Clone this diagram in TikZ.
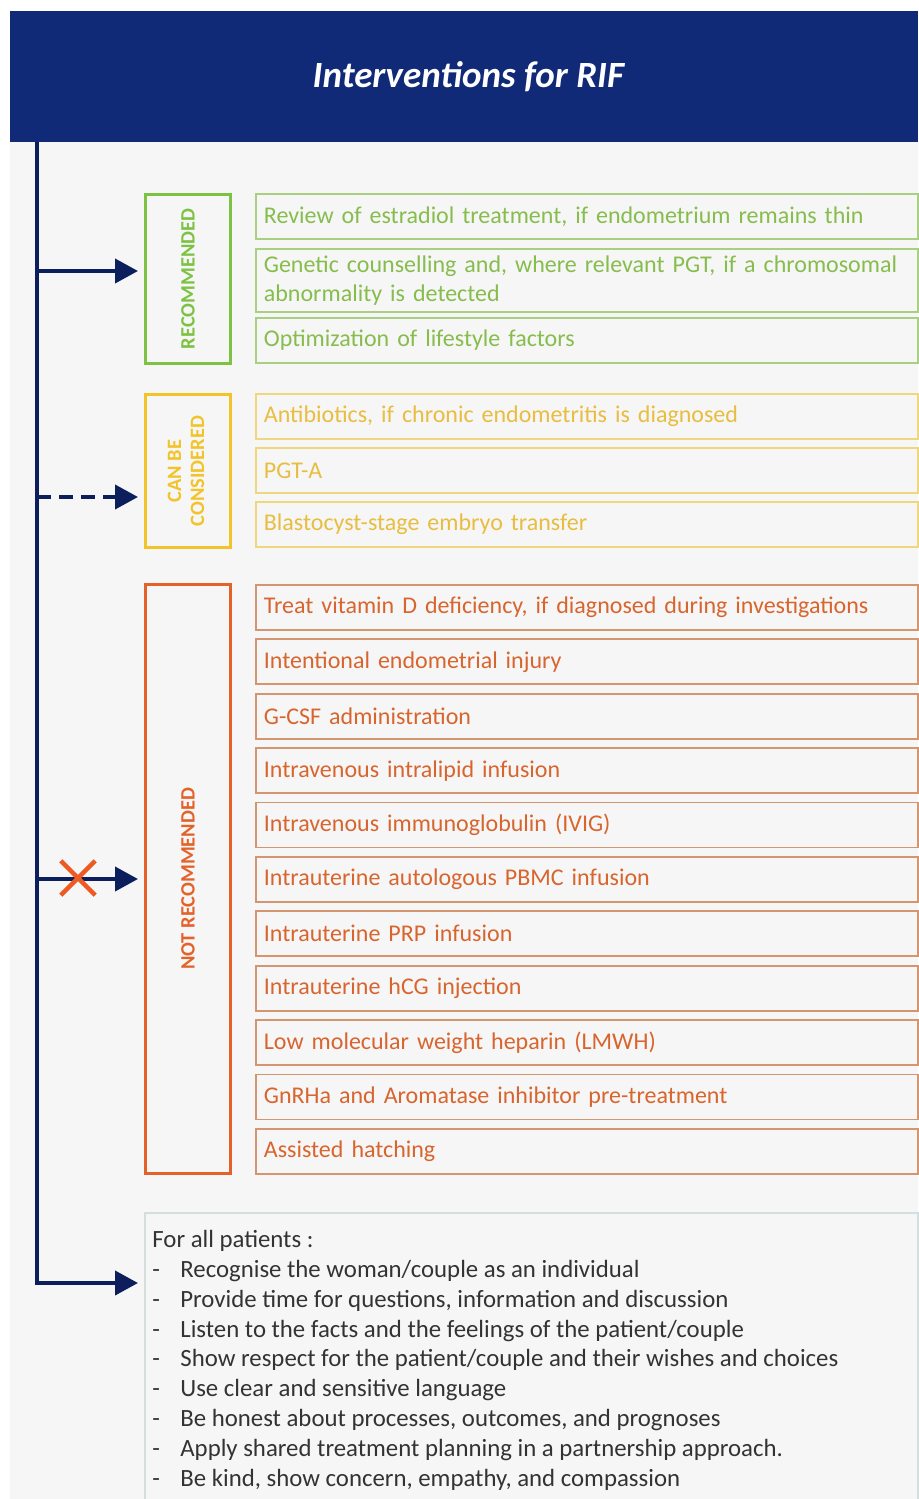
\documentclass[tikz,border=0pt]{standalone}
\usepackage{fontspec}
\setmainfont{Carlito}
\usetikzlibrary{positioning,calc,arrows.meta,shapes.misc}

\definecolor{panelgrey}{HTML}{F6F6F6}
\definecolor{headblue}{HTML}{102A78}
\definecolor{spineblue}{HTML}{0C1E5B}
\definecolor{recgreen}{HTML}{7DC242}
\definecolor{recline}{HTML}{A9CF80}
\definecolor{rectext}{HTML}{86BD4C}
\definecolor{cbcyellow}{HTML}{F2C42A}
\definecolor{cbcline}{HTML}{EED77C}
\definecolor{cbctext}{HTML}{E8BD40}
\definecolor{nrorange}{HTML}{E4622A}
\definecolor{nrline}{HTML}{D49670}
\definecolor{nrtext}{HTML}{D8652E}
\definecolor{crossorange}{HTML}{EE5A24}
\definecolor{patline}{HTML}{D3DEDE}
\definecolor{pattext}{HTML}{333333}

\newcommand{\pdash}{\makebox[14pt][l]{-}}

\tikzset{
  catbox/.style={draw=#1, text=#1, line width=1.5pt, anchor=north west,
    minimum width=42.5pt, inner sep=0pt,
    font=\fontsize{10.2}{11.5}\selectfont\bfseries},
  item/.style={draw, line width=0.9pt, anchor=north west, inner xsep=4pt,
    text width=323pt, minimum height=22.5pt, align=left,
    font=\fontsize{12}{14.5}\selectfont},
  flow/.style={draw=spineblue, line width=2pt,
    -{Triangle[length=11.5pt,width=12pt]}}
}

\begin{document}
\begin{tikzpicture}[x=0.5pt, y=-0.5pt]
\useasboundingbox (0,0) rectangle (918,1499);
\fill[panelgrey] (10,11) rectangle (918,1499);

% Header
\node[fill=headblue, text=white, anchor=north west, inner sep=0pt,
  minimum width=454pt, minimum height=65.5pt,
  font=\fontsize{18.5}{22}\selectfont\bfseries\itshape] (head) at (10,11)
  {\hspace*{4pt}Interventions for RIF};
\coordinate (spinetop) at (37,142);

% Recommended
\node[catbox=recgreen, minimum height=84.5pt] (rec) at (144,193)
  {\rotatebox{90}{RECOMMENDED}};
\node[item, draw=recline, text=rectext] (rec1) at (255,193)
  {Review of estradiol treatment, if endometrium remains thin};
\node[item, draw=recline, text=rectext, minimum height=29.5pt] (rec2) at (255,248)
  {Genetic counselling and, where relevant PGT, if a chromosomal\\abnormality is detected};
\node[item, draw=recline, text=rectext] (rec3) at (255,317)
  {Optimization of lifestyle factors};

% Can be considered
\node[catbox=cbcyellow, minimum height=76.5pt] (cbc) at (144,393)
  {\rotatebox{90}{\begin{tabular}{@{}c@{}}CAN BE\\CONSIDERED\end{tabular}}};
\foreach \txt [count=\i] in {{Antibiotics, if chronic endometritis is diagnosed},
    PGT-A, Blastocyst-stage embryo transfer}
  \node[item, draw=cbcline, text=cbctext] (cbc\i) at (255,339+54*\i) {\txt};

% Not recommended
\node[catbox=nrorange, minimum height=294.5pt] (nrec) at (144,583)
  {\rotatebox{90}{NOT RECOMMENDED}};
\foreach \txt [count=\i] in {{Treat vitamin D deficiency, if diagnosed during investigations},
    Intentional endometrial injury, G-CSF administration,
    Intravenous intralipid infusion, Intravenous immunoglobulin (IVIG),
    Intrauterine autologous PBMC infusion, Intrauterine PRP infusion,
    Intrauterine hCG injection, Low molecular weight heparin (LMWH),
    GnRHa and Aromatase inhibitor pre-treatment, Assisted hatching}
  \node[item, draw=nrline, text=nrtext] (nrec\i) at (255,529.6+54.4*\i) {\txt};

% For all patients
\node[draw=patline, line width=0.8pt, fill=panelgrey, anchor=north west,
  minimum width=386.5pt, minimum height=146pt] (pat) at (144,1212) {};
\node[anchor=north west, inner sep=0pt, align=left, text=pattext,
  font=\fontsize{12.4}{14.9}\selectfont] (pattxt) at (152,1230)
  {For all patients :\\
   \pdash Recognise the woman/couple as an individual\\
   \pdash Provide time for questions, information and discussion\\
   \pdash Listen to the facts and the feelings of the patient/couple\\
   \pdash Show respect for the patient/couple and their wishes and choices\\
   \pdash Use clear and sensitive language\\
   \pdash Be honest about processes, outcomes, and prognoses\\
   \pdash Apply shared treatment planning in a partnership approach.\\
   \pdash Be kind, show concern, empathy, and compassion};

% Connectors
\coordinate (recin) at ([shift={(-3pt,-39pt)}]rec.north west);
\coordinate (cbcin) at ([shift={(-3pt,-52pt)}]cbc.north west);
\coordinate (nrin) at ([xshift=-3pt]nrec.west);
\coordinate (patin) at ([shift={(-3pt,-35.5pt)}]pat.north west);
\draw[flow] (spinetop) |- (patin);
\draw[flow] (spinetop |- recin) -- (recin);
\draw[flow, dash pattern=on 7pt off 4pt] (spinetop |- cbcin) -- (cbcin);
\draw[flow] (spinetop |- nrin) -- (nrin);
\node[cross out, draw=crossorange, line width=2.2pt, inner sep=0pt,
  minimum size=15pt] (nrx) at (78,878) {};
\end{tikzpicture}
\end{document}
